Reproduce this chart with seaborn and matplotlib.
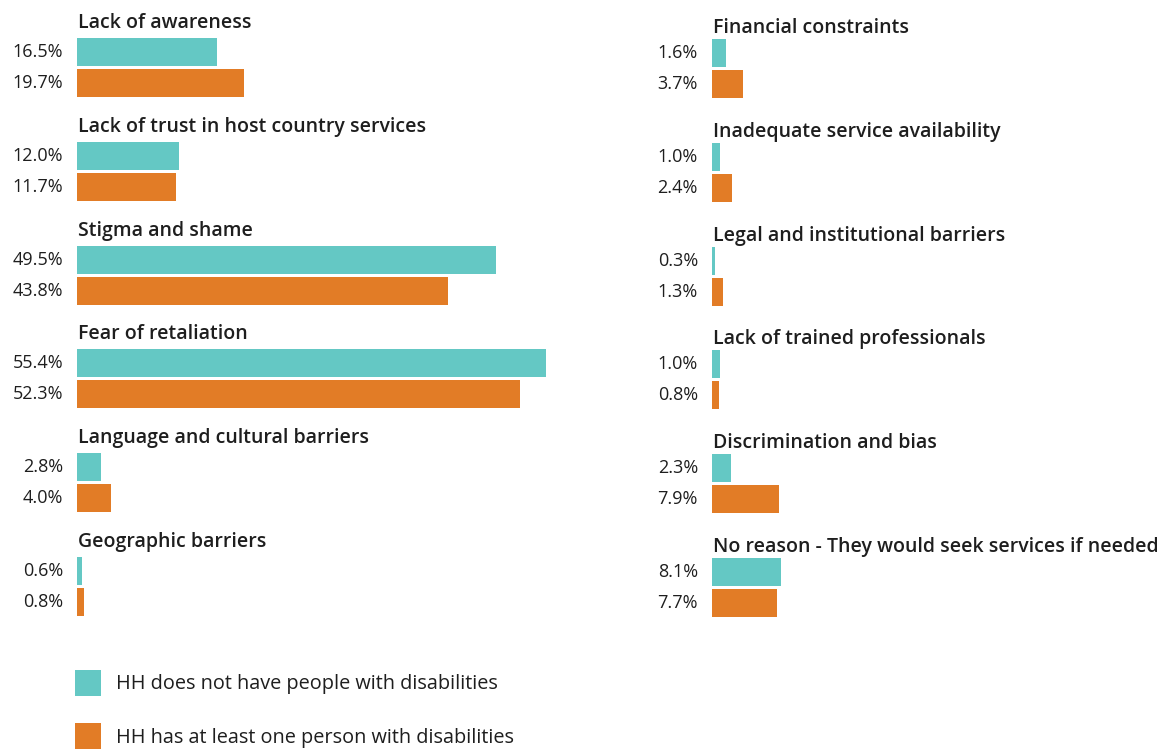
import matplotlib
matplotlib.use("Agg")
import matplotlib.pyplot as plt
from matplotlib.patches import Patch
import seaborn as sns
import pandas as pd

# Survey results: share of households citing each barrier to seeking services
groups = ["HH does not have people with disabilities",
          "HH has at least one person with disabilities"]
colors = ["#64C8C4", "#E27C26"]

left_categories = ["Lack of awareness",
                   "Lack of trust in host country services",
                   "Stigma and shame",
                   "Fear of retaliation",
                   "Language and cultural barriers",
                   "Geographic barriers"]
left_no_disability = [16.5, 12.0, 49.5, 55.4, 2.8, 0.6]
left_with_disability = [19.7, 11.7, 43.8, 52.3, 4.0, 0.8]

right_categories = ["Financial constraints",
                    "Inadequate service availability",
                    "Legal and institutional barriers",
                    "Lack of trained professionals",
                    "Discrimination and bias",
                    "No reason - They would seek services if needed"]
right_no_disability = [1.6, 1.0, 0.3, 1.0, 2.3, 8.1]
right_with_disability = [3.7, 2.4, 1.3, 0.8, 7.9, 7.7]

W, H = 1164, 749
sns.set_theme(style="white")
plt.rcParams["font.family"] = ["Open Sans", "DejaVu Sans"]

fig = plt.figure(figsize=(W / 100, H / 100), dpi=100)

PX_PER_PCT = 8.47
XMAX = 60.0
ROW_STEP = 103.8
TEXT = "#1e1e1e"


def fx(px):
    return px / W


def fy(py):
    return 1 - py / H


def draw_column(cats, a, b, bar_left, bar_top0, title_base0):
    for k, (cat, v1, v2) in enumerate(zip(cats, a, b)):
        top = bar_top0 + k * ROW_STEP - 1.5
        height = 62
        ax = fig.add_axes([fx(bar_left), fy(top + height),
                           fx(XMAX * PX_PER_PCT), height / H])
        df = pd.DataFrame({"group": groups, "value": [v1, v2]})
        sns.barplot(data=df, x="value", y="group", hue="group",
                    palette=colors, order=groups, hue_order=groups,
                    width=0.9, orient="h", legend=False, ax=ax,
                    saturation=1, linewidth=0)
        ax.set_xlim(0, XMAX)
        ax.set_ylim(1.5, -0.5)
        ax.axis("off")
        for i, v in enumerate([v1, v2]):
            ax.text(-14 / PX_PER_PCT, i, f"{v:.1f}%", ha="right",
                    va="center", fontsize=13, color=TEXT,
                    fontweight="normal")
        fig.text(fx(bar_left + 1), fy(title_base0 + k * ROW_STEP), cat,
                 ha="left", va="baseline", fontsize=14,
                 fontweight="semibold", color=TEXT)


draw_column(left_categories, left_no_disability, left_with_disability,
            77, 38, 28)
draw_column(right_categories, right_no_disability, right_with_disability,
            712, 39, 33)

handles = [Patch(facecolor=c, edgecolor="none") for c in colors]
fs = 14.3
fs_px = fs * 100 / 72
fig.legend(handles, groups, loc="upper left",
           bbox_to_anchor=(fx(75 - 4), fy(669 - 3)),
           frameon=False, fontsize=fs, handlelength=26 / fs_px,
           handleheight=(26 / fs_px - 0.245) / 0.65,
           handletextpad=15 / fs_px, labelspacing=1.38,
           borderpad=0.2, borderaxespad=0, labelcolor=TEXT)

fig.savefig("out.png", dpi=100)
